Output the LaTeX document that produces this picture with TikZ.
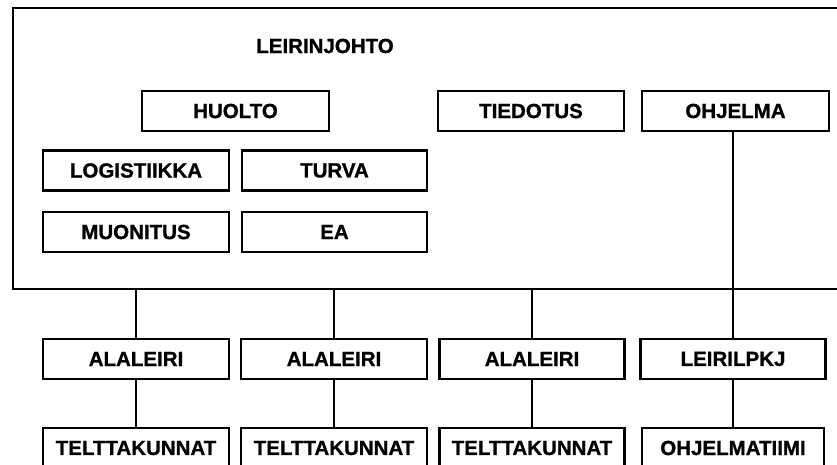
\documentclass[tikz,border=0pt]{standalone}
\usepackage{fontspec}
\setmainfont{Liberation Sans}[BoldFeatures={FakeBold=1}]
\begin{document}
\begin{tikzpicture}[x=1pt,y=-1pt,
  lbl/.style={font=\fontsize{20.5}{24}\selectfont\bfseries},
  box/.style={draw=black,line width=2.1pt,inner sep=0pt,minimum width=186pt,minimum height=40pt,lbl},
  conn/.style={draw=black,line width=2pt}]
\useasboundingbox (0,0) rectangle (837,464);
\clip (0,0) rectangle (837,464);
\fill[white] (0,0) rectangle (837,464);
% outer frame
\node[draw=black,line width=2.8pt,inner sep=0pt,minimum width=850pt,minimum height=281pt] (outer) at (438,148.5) {};
\node[lbl] (lj) at (325,46) {LEIRINJOHTO};
% inner boxes
\node[box,minimum width=187pt] (huolto) at (235.5,111) {HUOLTO};
\node[box] (tiedotus) at (531,111) {TIEDOTUS};
\node[box,minimum width=187pt] (ohjelma) at (735.5,111) {OHJELMA};
\node[box] (logistiikka) at (136,170.5) {LOGISTIIKKA};
\node[box,minimum width=185pt] (turva) at (334.5,170.5) {TURVA};
\node[box] (muonitus) at (136,232) {MUONITUS};
\node[box,minimum width=185pt] (ea) at (334.5,232) {EA};
% second level
\node[box] (ala1) at (136,359) {ALALEIRI};
\node[box] (ala2) at (334,359) {ALALEIRI};
\node[box,minimum width=185pt] (ala3) at (532,359) {ALALEIRI};
\node[box,minimum width=185pt] (lpkj) at (733,359) {LEIRILPKJ};
% third level (cut off at bottom)
\node[box,minimum height=60pt] (tk1) at (136,458) {};
\node[box,minimum height=60pt] (tk2) at (334,458) {};
\node[box,minimum width=185pt,minimum height=60pt] (tk3) at (532,458) {};
\node[box,minimum width=182pt,minimum height=60pt] (ot) at (733,458) {};
\node[lbl] (tk1t) at (136,448) {TELTTAKUNNAT};
\node[lbl] (tk2t) at (334,448) {TELTTAKUNNAT};
\node[lbl] (tk3t) at (532,448) {TELTTAKUNNAT};
\node[lbl] (ott) at (733,448) {OHJELMATIIMI};
% connectors
\draw[conn] (ala1.north) -- (ala1.north |- outer.south);
\draw[conn] (ala2.north) -- (ala2.north |- outer.south);
\draw[conn] (ala3.north) -- (ala3.north |- outer.south);
\draw[conn] (ohjelma.south -| lpkj.north) -- (lpkj.north);
\draw[conn] (ala1.south) -- (tk1.north);
\draw[conn] (ala2.south) -- (tk2.north);
\draw[conn] (ala3.south) -- (tk3.north);
\draw[conn] (lpkj.south) -- (ot.north);
\end{tikzpicture}
\end{document}
